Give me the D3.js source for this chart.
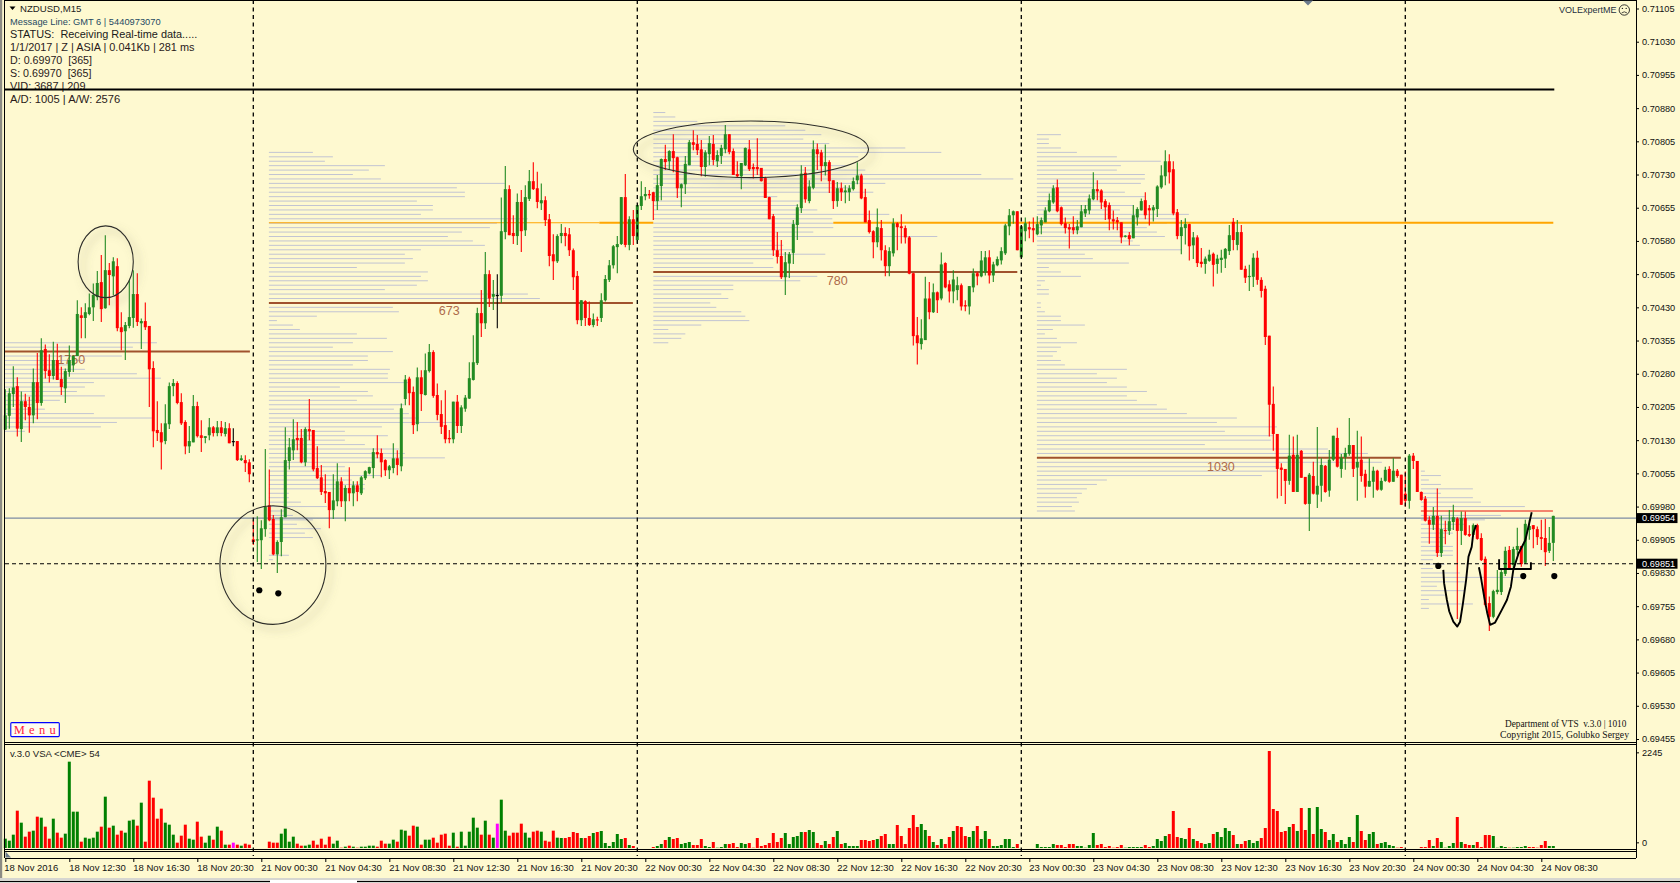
<!DOCTYPE html>
<html><head><meta charset="utf-8"><title>NZDUSD,M15</title>
<script src="https://cdn.jsdelivr.net/npm/d3@7/dist/d3.min.js"></script>
<style>html,body{margin:0;padding:0;background:#FEF9D0;overflow:hidden}svg{display:block}text{font-family:"Liberation Sans",Arial,sans-serif}</style>
</head><body><svg id="c" width="1680" height="883"></svg>
<script>
// ===== candles: [open, high, low, close] in 1e-5 price points =====
const nov18Bars=[[70154,70245,70153,70186],[70185,70247,70156,70236],[70234,70297,70205,70249],[70252,70272,70138,70156],[70155,70240,70126,70218],[70218,70235,70175,70205],[70205,70228,70147,70186],[70186,70292,70168,70261],[70261,70327,70177,70214],[70214,70360,70208,70333],
[70336,70346,70269,70286],[70288,70324,70260,70275],[70275,70352,70267,70311],[70311,70348,70266,70266],[70268,70296,70232,70250],[70247,70292,70214,70286],[70284,70344,70273,70311],[70299,70322,70284,70320],[70320,70446,70320,70415],[70412,70430,70360,70406],
[70406,70439,70360,70419],[70415,70461,70412,70430],[70430,70484,70399,70458],[70453,70512,70446,70485],[70487,70548,70397,70426],[70428,70593,70427,70514],[70514,70530,70435,70503],[70500,70543,70458,70534],[70523,70541,70376,70383],[70385,70419,70333,70374],
[70376,70397,70311,70390],[70388,70491,70383,70408],[70406,70514,70384,70460],[70460,70507,70388,70397],[70394,70405,70336,70399],[70399,70441,70379,70385],[70388,70388,70205,70290],[70293,70308,70114,70150],[70153,70218,70128,70146],[70148,70168,70064,70125],
[70128,70211,70121,70168],[70166,70260,70155,70252],[70252,70268,70229,70259],[70259,70263,70211,70214],[70216,70236,70164,70168],[70171,70175,70098,70116],[70116,70162,70101,70128],[70125,70232,70125,70207],[70207,70217,70136,70139],[70141,70175,70103,70135],
[70135,70139,70123,70139],[70141,70180,70130,70159],[70159,70162,70138,70146],[70146,70173,70139,70159],[70159,70173,70139,70146],[70144,70171,70138,70157],[70157,70168,70123,70123],[70128,70157,70116,70128],[70128,70128,70083,70085],[70085,70096,70083,70089],
[70085,70096,70058,70078],[70080,70087,70035,70053]];
const nov21Bars=[[69906,69949,69893,69900],[69904,69958,69855,69906],[69904,69949,69839,69931],[69929,70110,69912,69979],[69983,70064,69947,69949],[69952,69961,69870,69872],[69872,69904,69830,69900],[69900,69974,69868,69956],[69956,70159,69956,70085],[70083,70135,70064,70114],
[70107,70177,70085,70132],[70135,70171,70107,70130],[70135,70155,70078,70080],[70080,70159,70071,70155],[70155,70223,70130,70150],[70153,70153,70060,70064],[70067,70116,70042,70044],[70046,70074,70006,70013],[70015,70053,69988,70010],[70013,70013,69931,69972],
[69972,70053,69952,69994],[69992,70078,69981,70037],[70037,70046,69979,69992],[69992,70028,69947,70022],[70022,70069,69992,70010],[70010,70037,69981,70028],[70028,70037,69992,70013],[70010,70049,70006,70046],[70044,70062,70040,70060],[70055,70070,70053,70069],
[70067,70112,70044,70103],[70103,70141,70089,70098],[70101,70111,70046,70080],[70085,70087,70049,70062],[70062,70074,70042,70071],[70067,70123,70055,70089],[70089,70107,70051,70074],[70071,70213,70060,70202],[70223,70277,70209,70267],[70269,70273,70209,70236],
[70239,70251,70144,70164],[70166,70294,70150,70272],[70272,70288,70196,70234],[70232,70326,70231,70288],[70286,70347,70283,70329],[70329,70333,70226,70230],[70232,70258,70175,70187],[70189,70220,70144,70160],[70164,70243,70123,70132],[70135,70153,70123,70132],
[70132,70217,70123,70217],[70217,70232,70146,70162],[70162,70209,70146,70204],[70201,70232,70194,70226],[70224,70306,70223,70270],[70266,70367,70265,70306],[70304,70429,70300,70417],[70417,70469,70363,70394],[70394,70555,70381,70505],[70505,70514,70431,70450],
[70454,70492,70424,70460],[70458,70505,70383,70458],[70456,70678,70440,70602],[70600,70749,70584,70697],[70697,70706,70593,70593],[70598,70638,70573,70591],[70591,70687,70571,70668],[70668,70695,70555,70602],[70604,70706,70591,70679],[70675,70740,70670,70715],
[70715,70758,70695,70697],[70699,70736,70654,70668],[70665,70710,70650,70672],[70672,70681,70614,70627],[70629,70641,70523,70546],[70550,70595,70492,70534],[70534,70595,70530,70591],[70591,70618,70575,70598],[70598,70611,70568,70591],[70595,70609,70546,70559],
[70559,70563,70469,70498],[70501,70512,70392,70401],[70401,70446,70388,70446],[70444,70446,70388,70406],[70406,70443,70388,70390],[70390,70416,70385,70403],[70403,70409,70388,70401],[70406,70462,70397,70446],[70446,70503,70443,70494],[70492,70537,70487,70525],
[70525,70571,70518,70568],[70566,70591,70507,70573],[70573,70679,70571,70679],[70679,70731,70566,70571],[70571,70636,70559,70629],[70629,70650,70571,70591]];
const nov22Bars=[[70582,70661,70575,70661],[70659,70715,70650,70681],[70681,70702,70672,70686],[70686,70695,70675,70683],[70690,70691,70627,70670],[70670,70729,70650,70706],[70704,70766,70672,70765],[70765,70797,70740,70758],[70760,70785,70740,70783],[70783,70821,70735,70767],
[70769,70770,70677,70699],[70699,70710,70656,70708],[70708,70772,70686,70754],[70751,70808,70751,70803],[70803,70830,70785,70797],[70799,70819,70774,70785],[70787,70808,70726,70747],[70747,70785,70725,70780],[70776,70817,70751,70801],[70799,70819,70751,70763],
[70760,70785,70747,70774],[70772,70797,70754,70790],[70787,70842,70778,70821],[70821,70821,70776,70781],[70783,70789,70729,70729],[70731,70760,70723,70726],[70726,70756,70697,70756],[70751,70791,70749,70790],[70787,70808,70738,70742],[70747,70755,70721,70742],
[70747,70812,70729,70742],[70745,70745,70714,70715],[70722,70725,70677,70677],[70679,70680,70629,70629],[70636,70641,70546,70559],[70559,70600,70529,70544],[70546,70582,70494,70498],[70498,70555,70458,70532],[70529,70555,70496,70550],[70553,70627,70528,70618],
[70616,70663,70582,70656],[70654,70751,70643,70732],[70734,70747,70666,70674],[70670,70717,70665,70703],[70700,70807,70697,70787],[70787,70800,70740,70776],[70780,70786,70715,70749],[70749,70798,70728,70758],[70758,70762,70688,70715],[70717,70717,70652,70670],
[70670,70713,70657,70699],[70699,70712,70670,70690],[70690,70706,70665,70694],[70690,70706,70670,70699],[70697,70723,70694,70715],[70717,70758,70708,70728],[70728,70732,70674,70676],[70679,70698,70622,70622],[70627,70649,70597,70600],[70602,70604,70541,70577],
[70577,70653,70566,70611],[70609,70627,70536,70559],[70559,70570,70500,70523],[70523,70566,70500,70557],[70552,70631,70545,70620],[70620,70622,70559,70611],[70613,70640,70574,70609],[70609,70615,70574,70588],[70588,70591,70505,70506],[70507,70508,70344,70365],
[70367,70408,70301,70349],[70347,70403,70335,70360],[70356,70499,70356,70450],[70450,70487,70403,70419],[70419,70484,70417,70464],[70464,70466,70417,70446],[70450,70554,70446,70527],[70530,70532,70473,70475],[70482,70491,70441,70466],[70466,70514,70439,70493],
[70469,70499,70446,70480],[70480,70484,70423,70432],[70435,70446,70421,70432],[70432,70478,70414,70478],[70475,70518,70464,70507],[70507,70510,70480,70500],[70500,70557,70498,70536],[70509,70557,70502,70543],[70543,70559,70484,70502],[70502,70533,70487,70527],
[70525,70545,70523,70539],[70536,70566,70527,70557],[70552,70619,70548,70615],[70613,70652,70593,70638],[70638,70649,70619,70647],[70647,70647,70559,70559]];
const nov23Bars=[[70543,70613,70543,70613],[70602,70633,70579,70620],[70611,70624,70586,70606],[70609,70633,70577,70604],[70595,70636,70593,70618],[70615,70633,70595,70627],[70622,70656,70622,70649],[70647,70687,70645,70672],[70667,70706,70664,70699],[70701,70719,70645,70647],
[70656,70658,70615,70618],[70620,70633,70597,70609],[70611,70618,70563,70606],[70611,70636,70595,70604],[70604,70627,70595,70613],[70611,70661,70611,70647],[70642,70661,70634,70652],[70649,70685,70640,70676],[70674,70735,70672,70697],[70697,70717,70672,70692],
[70694,70697,70652,70667],[70670,70674,70627,70656],[70661,70667,70604,70629],[70629,70649,70606,70624],[70627,70634,70604,70622],[70622,70622,70575,70588],[70590,70593,70588,70592],[70593,70600,70570,70584],[70586,70661,70586,70638],[70633,70656,70615,70652],
[70649,70676,70649,70670],[70672,70690,70629,70638],[70654,70661,70615,70649],[70649,70661,70624,70656],[70652,70706,70634,70703],[70701,70751,70698,70728],[70726,70785,70706,70760],[70760,70776,70710,70735],[70742,70760,70638,70642],[70645,70652,70584,70591],
[70591,70627,70550,70611],[70609,70631,70572,70618],[70618,70619,70536,70568],[70570,70600,70539,70588],[70588,70593,70521,70530],[70533,70564,70520,70528],[70528,70545,70506,70540],[70535,70560,70533,70549],[70551,70554,70477,70526],[70528,70549,70506,70540],
[70537,70560,70508,70542],[70540,70564,70519,70562],[70557,70616,70548,70593],[70623,70632,70559,70582],[70571,70627,70559,70600],[70600,70616,70515,70515],[70517,70524,70485,70497],[70499,70526,70467,70501],[70499,70552,70476,70542],[70542,70558,70481,70492],
[70492,70498,70452,70467],[70472,70479,70345,70363],[70366,70366,70138,70210],[70212,70251,70106,70144],[70144,70144,69998,70065],[70068,70078,70004,70063],[70065,70065,69986,70038],[70038,70142,70029,70095],[70097,70138,70013,70013],[70013,70142,70013,70097],
[70106,70108,70045,70045],[70047,70047,69984,69986],[69986,70056,69925,70052],[70049,70081,70007,70009],[70007,70160,69977,70027],[70027,70089,69991,70074],[70072,70074,70011,70013],[70016,70108,70002,70086],[70086,70140,70083,70140],[70135,70158,70068,70070],
[70065,70099,70045,70090],[70092,70113,70063,70101],[70099,70180,70095,70119],[70119,70119,70047,70065],[70068,70151,69993,70081],[70086,70138,70036,70049],[70054,70063,70000,70025],[70025,70089,70025,70038],[70036,70070,70000,70061],[70061,70063,70016,70018],
[70018,70045,70016,70038],[70038,70070,70036,70063],[70065,70071,70034,70036],[70036,70089,70036,70061],[70061,70065,70045,70049],[70052,70052,69984,69984]];
const nov24Bars=[[70009,70059,69980,69993],[69993,70099,69975,70095],[70095,70101,70065,70083],[70083,70083,70013,70013],[70013,70014,69993,69995],[69998,70004,69946,69948],[69950,69958,69896,69939],[69939,69979,69927,69959],[69959,70021,69866,69875],[69875,69959,69866,69929],
[69927,69948,69895,69925],[69925,69972,69916,69947],[69945,69984,69927,69956],[69953,69956,69726,69925],[69925,69969,69893,69954],[69954,69969,69914,69916],[69918,69938,69911,69914],[69916,69942,69912,69938],[69938,69941,69905,69907],[69909,69920,69857,69859],
[69862,69867,69754,69758],[69762,69777,69699,69731],[69731,69792,69728,69789],[69787,69837,69782,69792],[69787,69837,69780,69832],[69828,69889,69823,69880],[69882,69891,69837,69839],[69848,69889,69837,69884],[69882,69932,69871,69891],[69891,69891,69844,69850],
[69853,69950,69850,69941],[69927,69950,69905,69936],[69938,69938,69886,69929],[69929,69935,69893,69911],[69911,69950,69882,69907],[69909,69952,69846,69877],[69880,69934,69875,69898],[69898,69959,69857,69959]];
// ===== VSA volume histogram, in indicator units, and bar kinds (g/r/m) =====
const nov18Vol=[28,22,40,112,76,34,49,52,94,91,64,28,88,46,31,43,259,109,109,19,31,28,31,49,64,154,61,67,40,52,46,82,85,67,136,19,202,151,88,118,76,70,40,16,37,70,28,25,79,34,16,37,25,64,52,10,10,16,10,7,13,10];
const nov21Vol=[0,0,0,0,19,16,16,43,58,19,34,13,7,7,10,22,10,28,10,34,13,22,1,4,7,4,1,4,4,7,7,4,22,13,13,25,19,55,52,37,67,64,10,25,25,31,16,40,43,7,46,4,49,7,49,91,61,40,82,40,31,73,145,52,37,46,46,73,46,31,49,52,49,22,19,52,31,30,30,33,48,45,30,30,36,45,48,51,15,6,18,42,27,30,9,6];
const nov22Vol=[0,0,0,0,3,6,12,24,33,27,30,12,15,18,9,9,27,6,3,18,1,3,12,12,15,3,15,12,15,1,30,6,9,15,45,18,30,45,12,33,36,48,48,54,48,15,9,21,12,33,51,12,15,6,6,6,24,24,21,24,27,36,42,12,12,69,36,12,60,99,63,72,54,36,18,9,27,12,33,51,66,63,36,33,51,66,27,51,27,6,6,9,27,27,3,12];
const nov23Vol=[0,0,0,0,12,3,3,3,12,9,9,3,12,12,6,6,1,9,45,9,12,3,6,1,3,9,1,3,3,3,3,9,3,6,27,21,36,42,111,33,30,27,60,27,21,15,12,15,42,48,33,60,51,39,12,12,21,24,15,21,30,60,291,117,111,48,51,63,72,51,120,54,120,42,123,57,48,24,42,18,24,12,33,18,99,51,24,42,48,12,15,18,9,6,1,3];
const nov24Vol=[0,0,0,0,3,3,24,6,30,18,1,6,15,93,18,12,9,9,18,3,39,39,36,1,6,3,1,1,3,3,6,3,3,1,9,21,6,6];
const nov18Kinds="gggrgrrgrg rrgrrggggr ggggrgrgrr gggrgrrrrr gggrrrggrr ggrgrgrmrg rr";
const nov21Kinds="rrrrrrrg gggrrggrrr rrggrgrgrg gggrrrggrg grrgrggrrr rrgrgggggr grgmggrrrr ggrrgrrrgg rrrrgrrgrg gggggrgr";
const nov22Kinds="gggg rggrgrrggg rrrggrgggr rrggrrrrrr rrrgggggrg grrgrrgrgg ggrrrrgrrg grrrrrrggr grgrrgrrrg grggrggggg gr";
const nov23Kinds="gggg gggggrrrrrgggggrrrrrr rgggggrrgg ggrrrggrgr rggrggggrg rrgggrrrrr rrgrgrrgrg grggrgggrg rrggrggggr r";
const nov24Kinds="gggg rrrgrggggr grrgrrrrgg ggrggggrrr rrgg";
// ===== axes =====
const priceTicks=[71105,71030,70955,70880,70805,70730,70655,70580,70505,70430,70355,70280,70205,70130,70055,69980,69905,69830,69755,69680,69605,69530,69455];
const timeLabels=["18 Nov 2016","18 Nov 12:30","18 Nov 16:30","18 Nov 20:30","21 Nov 00:30","21 Nov 04:30","21 Nov 08:30","21 Nov 12:30","21 Nov 16:30","21 Nov 20:30","22 Nov 00:30","22 Nov 04:30","22 Nov 08:30","22 Nov 12:30","22 Nov 16:30","22 Nov 20:30","23 Nov 00:30","23 Nov 04:30","23 Nov 08:30","23 Nov 12:30","23 Nov 16:30","23 Nov 20:30","24 Nov 00:30","24 Nov 04:30","24 Nov 08:30"];
const dayStartBars=[62,158,254,350];
const volTickValues=[287,17];
const volTickLabels=["2245","0"];
// ===== market profile blocks: level lengths from the top price downward, 10 points apart =====
const profile1=[152,128,245,117,79,69,80,132,156,89,80,72,100,55,29,40,89,147,112,96,20];
const profile2=[44,64,56,116,100,84,112,236,188,196,196,148,164,164,152,259,228,221,193,179,204,216,152,136,144,136,88,159,152,159,148,116,259,271,364,124,130,48,8,24,31,88,118,84,64,124,99,99,84,121,119,119,140,71,99,104,88,135,125,140,150,190,113,76,119,76,96,130,136,176,103,76,81,113,83,96,96,20,20,32,58,16,24,44,28,52,36,44,0,0,0,20,4];
const profile3=[12,22,44,132,152,168,150,176,252,288,205,170,195,212,328,360,232,200,220,124,150,145,164,236,179,180,180,160,284,120,130,140,172,120,100,120,364,164,147,80,80,68,75,57,63,88,92,96,48,15,32,28,15];
const profile4=[24,12,12,24,40,80,124,84,80,108,108,104,56,88,108,63,96,83,152,140,130,110,120,128,96,103,145,48,56,92,12,24,44,8,4,12,12,0,4,4,8,24,24,48,16,8,20,40,24,20,16,24,28,90,60,80,70,90,110,90,100,120,130,150,200,180,240,188,236,234,168,291,331,364,345,240,240,225,70,60,50,45,40,42,35,38];
const profile5=[4,20,8,20,52,20,52,60,104,132,80,64,44,32,32,24,20,32,32,32,12,24,12,39,105,44,16,44,24,8,52,8];
const profileStartBars=[-0.1,65.9,162,257.9,353.9];
const profileTopPrices=[70350,70780,70870,70820,70060];
const profilePocLevels=[2,34,36,73,9];
const pocLabels=["1750","673","780","1030",""];
const pocLabelBars=[16.5,111,208,303.9,0];
const pocLabelPrices=[70311,70422,70490,70071,0];
// ===== price levels =====
const orangeLevel=70621, blackLevel=70922, bidLevel=69954, askLevel=69851;
const orangeSpans=[[65.9,148.5],[148.5,162],[207,387]];
const orangeWeights=[1.1,2,2];
// ===== hand-drawn annotations (bar, price) =====
const ellipseCenters=[[25.1,70533],[66.9,69848],[186.4,70787]];
const ellipseRadii=[[6.9,81],[13.25,134],[29.4,64]];
const dots=[[63.5,69791],[68.25,69784],[358.25,69846],[379.5,69823],[387.25,69823]];
const strokeLeft=[[359.5,69837],[359.7,69807],[360.4,69769],[361,69743],[362,69720],[363,69709],[363.7,69720],[364.4,69761],[365.2,69814],[365.8,69867],[366.6,69889],[367,69920],[367.7,69938]];
const strokeRight=[[368.4,69843],[368.95,69818],[369.7,69777],[370.5,69739],[371.2,69713],[372.45,69718],[374.1,69746],[375.4,69769],[376.4,69799],[377,69837],[378.3,69874],[380,69904],[380.8,69935],[381.6,69967]];
const bracket=[[373.45,69861],[373.45,69839],[381.4,69839],[381.4,69854]];
// ===== header text =====
const headerLines=[
 ["Message Line: GMT 6 | 5440973070",10,21.7,"#1f4a63",9.3],
 ["STATUS:  Receiving Real-time data.....",10,34.6,"#1a1a1a",10.9],
 ["1/1/2017 | Z | ASIA | 0.041Kb | 281 ms",10,47.4,"#2a1a1a",10.9],
 ["D: 0.69970  [365]",10,60.2,"#2a1a1a",10.7],
 ["S: 0.69970  [365]",10,73,"#2a1a1a",10.7],
 ["VID: 3687 | 209",10,85.8,"#2a1a1a",10.9],
 ["A/D: 1005 | A/W: 2576",10,99,"#2a1a1a",11.2]];

const bars=[...nov18Bars,...nov21Bars,...nov22Bars,...nov23Bars,...nov24Bars];
const volumes=[...nov18Vol,...nov21Vol,...nov22Vol,...nov23Vol,...nov24Vol];
const kinds=(nov18Kinds+nov21Kinds+nov22Kinds+nov23Kinds+nov24Kinds).replace(/\s/g,"").split("");

const BG="#FEF9D0",GREEN="#228B22",RED="#FF0000",GRAY="#c2c4d2",BROWN="#A0522D",ORANGE="#FFA500";
const svg=d3.select("#c");
const defs=svg.append("defs");
const flt=defs.append("filter").attr("id","sh").attr("x","-30%").attr("y","-30%").attr("width","170%").attr("height","170%");
flt.append("feDropShadow").attr("dx",5).attr("dy",5).attr("stdDeviation",4).attr("flood-color","#6f6f55").attr("flood-opacity",.65);

const x=d3.scaleLinear().domain([0,387]).range([5.3,1553.3]);
const y=d3.scaleLinear().domain([69455,71105]).range([739,8.5]);
const yVol=d3.scaleLinear().domain([0,300]).range([848,748]);
const profLen=d3.scaleLinear().domain([0,100]).range([0,100]);
const dw=x(1)-x(0);

svg.append("rect").attr("width",1680).attr("height",883).attr("fill",BG);

// profile
const profiles=[profile1,profile2,profile3,profile4,profile5];
const gp=svg.append("g");
profiles.forEach((p,b)=>{
  p.forEach((len,k)=>{
    if(!len||k===profilePocLevels[b])return;
    const py=y(profileTopPrices[b]-10*k);
    gp.append("line").attr("x1",x(profileStartBars[b])).attr("x2",x(profileStartBars[b])+profLen(len))
      .attr("y1",py).attr("y2",py).attr("stroke",GRAY).attr("stroke-width",1);
  });
});
// orange levels
orangeSpans.forEach((s,i)=>gp.append("line").attr("x1",x(s[0])).attr("x2",x(s[1])).attr("y1",y(orangeLevel)).attr("y2",y(orangeLevel)).attr("stroke",ORANGE).attr("stroke-width",orangeWeights[i]));
// POC lines and labels
profiles.forEach((p,b)=>{
  const k=profilePocLevels[b],py=y(profileTopPrices[b]-10*k);
  gp.append("line").attr("x1",x(profileStartBars[b])).attr("x2",x(profileStartBars[b])+profLen(p[k]))
    .attr("y1",py).attr("y2",py).attr("stroke",b===4?"#e8100c":BROWN).attr("stroke-width",b===4?1.2:2);
  if(pocLabels[b]) gp.append("text").attr("x",x(pocLabelBars[b])).attr("y",y(pocLabelPrices[b])).attr("dy",".35em")
    .attr("text-anchor","middle").attr("font-size",12.5).attr("fill","#AD6A4A").text(pocLabels[b]);
});
// bid line
gp.append("line").attr("x1",5).attr("x2",1636).attr("y1",y(bidLevel)).attr("y2",y(bidLevel)).attr("stroke","#7d8ba3").attr("stroke-width",1.2);

// candles
const col=d=>d[3]>d[0]?GREEN:d[3]<d[0]?RED:"#000";
const gc=svg.append("g");
gc.selectAll("line").data(bars).join("line").attr("x1",(d,i)=>x(i)).attr("x2",(d,i)=>x(i))
  .attr("y1",d=>y(d[1])).attr("y2",d=>y(d[2])).attr("stroke",col).attr("stroke-width",1.1);
gc.selectAll("rect").data(bars).join("rect").attr("x",(d,i)=>x(i)-1.5).attr("width",3)
  .attr("y",d=>y(Math.max(d[0],d[3]))).attr("height",d=>Math.max(1.2,Math.abs(y(d[0])-y(d[3])))).attr("fill",col);

// ask dashed
svg.append("line").attr("x1",5).attr("x2",1636).attr("y1",y(askLevel)).attr("y2",y(askLevel)).attr("stroke","#000").attr("stroke-width",1.1).attr("stroke-dasharray","4 3");

// volume
const gv=svg.append("g");
gv.selectAll("rect").data(volumes).join("rect").attr("x",(d,i)=>x(i)-1.5).attr("width",3)
  .attr("y",d=>yVol(d)).attr("height",d=>yVol(0)-yVol(d))
  .attr("fill",(d,i)=>kinds[i]==="g"?"#008000":kinds[i]==="m"?"#FF00FF":"#FF0000");

// frame lines
const H=(y0,x1,x2,w=1,c="#000")=>svg.append("line").attr("x1",x1).attr("x2",x2).attr("y1",y0).attr("y2",y0).attr("stroke",c).attr("stroke-width",w).attr("shape-rendering","crispEdges");
const V=(x0,y1,y2,w=1,c="#000")=>svg.append("line").attr("x1",x0).attr("x2",x0).attr("y1",y1).attr("y2",y2).attr("stroke",c).attr("stroke-width",w).attr("shape-rendering","crispEdges");
H(.5,4.5,1636);H(742.5,4.5,1636);H(744.5,4.5,1636);H(849.5,4.5,1636);H(851.5,4.5,1636);H(858.5,4.5,1636);
V(4.5,0,858);V(1636,0,858);
svg.append("rect").attr("x",0).attr("y",0).attr("width",2.2).attr("height",883).attr("fill","#8c8c84");
// window bottom
svg.append("rect").attr("x",0).attr("y",878).attr("width",1680).attr("height",5).attr("fill","#d6d6d0");
svg.append("rect").attr("x",270).attr("y",880).attr("width",87).attr("height",3).attr("fill","#fff");
H(881.5,0,270);H(881.5,357,1680);

// dashed day separators
dayStartBars.forEach(b=>svg.append("line").attr("x1",x(b)).attr("x2",x(b)).attr("y1",0).attr("y2",856).attr("stroke","#000").attr("stroke-width",1.3).attr("stroke-dasharray","4 3.5"));

// annotations
ellipseCenters.forEach((c,i)=>svg.append("ellipse").attr("cx",x(c[0])).attr("cy",y(c[1]))
  .attr("rx",dw*ellipseRadii[i][0]).attr("ry",y(69455)-y(69455+ellipseRadii[i][1])).attr("fill","none")
  .attr("stroke","#2e2e2a").attr("stroke-width",1.1).attr("filter","url(#sh)"));
svg.append("g").selectAll("circle").data(dots).join("circle").attr("cx",d=>x(d[0])).attr("cy",d=>y(d[1])).attr("r",3.1).attr("fill","#000");
const path=d3.line().x(d=>x(d[0])).y(d=>y(d[1]));
[strokeLeft,strokeRight,bracket].forEach(s=>svg.append("path").attr("d",path(s)).attr("fill","none").attr("stroke","#000").attr("stroke-width",1.9).attr("stroke-linejoin","round"));

// price axis
const ax=svg.append("g").attr("transform","translate(1636,0)")
  .call(d3.axisRight(y).tickValues(priceTicks).tickSize(3).tickPadding(3).tickFormat(d=>(d/1e5).toFixed(5)));
ax.select(".domain").remove();
ax.selectAll("text").attr("font-size",9.2).attr("font-family","Liberation Sans").attr("fill","#111");
ax.selectAll("line").attr("stroke","#000");
// live price boxes
[[bidLevel,"0.69954"],[askLevel,"0.69851"]].forEach(l=>{
  svg.append("rect").attr("x",1636).attr("y",y(l[0])-5).attr("width",41.5).attr("height",10).attr("fill","#000");
  svg.append("text").attr("x",1642).attr("y",y(l[0])).attr("dy",".35em").attr("font-size",9.2).attr("fill","#fff").text(l[1]);
});
// volume axis
const av=svg.append("g").attr("transform","translate(1636,0)")
  .call(d3.axisRight(yVol).tickValues(volTickValues).tickSize(3).tickPadding(3).tickFormat((d,i)=>volTickLabels[i]));
av.select(".domain").remove();
av.selectAll("text").attr("font-size",9.2).attr("font-family","Liberation Sans").attr("fill","#111");
av.selectAll("line").attr("stroke","#000");
// time axis
const tickBars=timeLabels.map((d,i)=>i*16);
const at=svg.append("g").attr("transform","translate(0,858)")
  .call(d3.axisBottom(x).tickValues(tickBars).tickSize(4).tickPadding(2).tickFormat((d,i)=>timeLabels[i]));
at.select(".domain").remove();
at.selectAll("text").attr("text-anchor","start").attr("font-size",9.5).attr("font-family","Liberation Sans").attr("fill","#111").attr("dx",(d,i)=>i===0?-1.5:-.5);
at.selectAll("line").attr("stroke","#000");

// header
svg.append("path").attr("d",d3.line()([[9.5,6.5],[15.5,6.5],[12.5,10]])+"Z").attr("fill","#000");
svg.append("text").attr("x",20).attr("y",8.5).attr("dy",".35em").attr("font-size",9.6).attr("fill","#222").text("NZDUSD,M15");
headerLines.forEach(l=>svg.append("text").attr("x",l[1]).attr("y",l[2]).attr("dy",".35em").attr("font-size",l[4]).attr("fill",l[3]).style("white-space","pre").text(l[0]));
svg.append("line").attr("x1",5).attr("x2",x(387)+1).attr("y1",y(blackLevel)).attr("y2",y(blackLevel)).attr("stroke","#000").attr("stroke-width",2);
// expert name
svg.append("text").attr("x",1559).attr("y",10).attr("dy",".35em").attr("font-size",9).attr("fill","#1f3040").text("VOLExpertME");
svg.append("circle").attr("cx",1624.3).attr("cy",10).attr("r",5.2).attr("fill","none").attr("stroke","#222").attr("stroke-width",.9);
svg.append("path").attr("d","M1621.6 13 Q1624.3 10.6 1627 13").attr("fill","none").attr("stroke","#222").attr("stroke-width",.8);
svg.append("circle").attr("cx",1622.4).attr("cy",8.4).attr("r",.7).attr("fill","#222");
svg.append("circle").attr("cx",1626.2).attr("cy",8.4).attr("r",.7).attr("fill","#222");
// small corner triangles
svg.append("path").attr("d","M1303 .5L1313 .5L1308 5.5Z").attr("fill","#6b7a8c");
svg.append("path").attr("d","M5.5 851.5L5.5 857.5L11 857.5Z").attr("fill","#6b7a8c");
// menu
svg.append("rect").attr("x",10.8).attr("y",722.6).attr("width",48.5).attr("height",14).attr("rx",1).attr("fill","#FFFDF0").attr("stroke","#0000ff").attr("stroke-width",1.1);
svg.append("text").attr("x",35).attr("y",729.8).attr("dy",".35em").attr("text-anchor","middle").style("font-family","'Liberation Serif',serif").attr("font-size",12.5).attr("letter-spacing",.6).attr("fill","#ff2040").style("white-space","pre").text("M e n u");
// credits
[["Department of VTS  v.3.0 | 1010",1505,723.4,9.3],["Copyright 2015, Golubko Sergey",1500,734.8,9.7]].forEach(t=>
  svg.append("text").attr("x",t[1]).attr("y",t[2]).attr("dy",".35em").style("font-family","'Liberation Serif',serif").attr("font-size",t[3]).attr("fill","#111").style("white-space","pre").text(t[0]));
svg.append("text").attr("x",10).attr("y",753.7).attr("dy",".35em").attr("font-size",9.6).attr("fill","#222").text("v.3.0 VSA <CME> 54");
</script></body></html>
